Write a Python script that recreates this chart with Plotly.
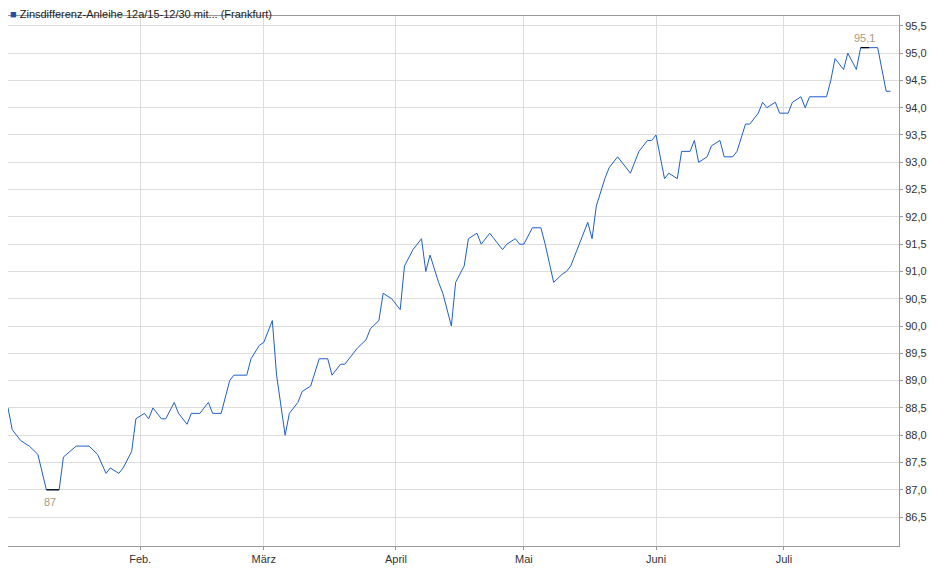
import plotly.graph_objects as go

# Kursverlauf, Jahr 2024
dates = [
    "01-01", "01-02", "01-04", "01-06", "01-08", "01-10", "01-13", "01-14", "01-17", "01-20",
    "01-22", "01-24", "01-25", "01-27", "01-28", "01-30", "01-31", "02-02", "02-03", "02-04",
    "02-06", "02-07", "02-09", "02-10", "02-12", "02-13", "02-15", "02-17", "02-18", "02-20",
    "02-22", "02-23", "02-26", "02-27", "02-29", "03-01", "03-03", "03-04", "03-06", "03-07",
    "03-09", "03-10", "03-12", "03-14", "03-16", "03-17", "03-19", "03-20", "03-22", "03-23",
    "03-25", "03-26", "03-28", "03-29", "03-31", "04-02", "04-03", "04-05", "04-07", "04-08",
    "04-09", "04-11", "04-12", "04-14", "04-15", "04-17", "04-18", "04-20", "04-21", "04-23",
    "04-24", "04-26", "04-27", "04-29", "04-30", "05-01", "05-03", "05-05", "05-06", "05-08",
    "05-10", "05-11", "05-12", "05-14", "05-16", "05-17", "05-18", "05-20", "05-21", "05-23",
    "05-24", "05-26", "05-27", "05-28", "05-30", "05-31", "06-01", "06-03", "06-04", "06-06",
    "06-07", "06-09", "06-10", "06-11", "06-13", "06-14", "06-16", "06-17", "06-19", "06-20",
    "06-22", "06-23", "06-25", "06-26", "06-27", "06-29", "06-30", "07-02", "07-03", "07-05",
    "07-06", "07-07", "07-09", "07-11", "07-12", "07-13", "07-15", "07-16", "07-18", "07-19",
    "07-21", "07-23", "07-25", "07-26",
]
prices = [
    88.5, 88.1, 87.9, 87.8, 87.65, 87.0, 87.0, 87.6, 87.8, 87.8,
    87.65, 87.3, 87.4, 87.3, 87.4, 87.7, 88.3, 88.4, 88.3, 88.5,
    88.3, 88.3, 88.6, 88.4, 88.2, 88.4, 88.4, 88.6, 88.4, 88.4,
    89.0, 89.1, 89.1, 89.4, 89.65, 89.7, 90.1, 89.1, 88.0, 88.4,
    88.6, 88.8, 88.9, 89.4, 89.4, 89.1, 89.3, 89.3, 89.5, 89.6,
    89.75, 89.95, 90.1, 90.6, 90.5, 90.3, 91.1, 91.4, 91.6, 91.0,
    91.3, 90.8, 90.6, 90.0, 90.8, 91.1, 91.6, 91.7, 91.5, 91.7,
    91.6, 91.4, 91.5, 91.6, 91.5, 91.5, 91.8, 91.8, 91.5, 90.8,
    90.95, 91.0, 91.1, 91.5, 91.9, 91.6, 92.2, 92.7, 92.9, 93.1,
    93.0, 92.8, 93.0, 93.2, 93.4, 93.4, 93.5, 92.7, 92.8, 92.7,
    93.2, 93.2, 93.4, 93.0, 93.1, 93.3, 93.4, 93.1, 93.1, 93.2,
    93.7, 93.7, 93.9, 94.1, 94.0, 94.1, 93.9, 93.9, 94.1, 94.2,
    94.0, 94.2, 94.2, 94.2, 94.5, 94.9, 94.7, 95.0, 94.7, 95.1,
    95.1, 95.1, 94.3, 94.3,
]
x_dates = ["2024-" + d for d in dates]

month_ticks = ["2024-02-01", "2024-03-01", "2024-04-01", "2024-05-01", "2024-06-01", "2024-07-01"]
month_labels = ["Feb.", "März", "April", "Mai", "Juni", "Juli"]
y_ticks = [86.5 + 0.5 * i for i in range(19)]

series_name = "Zinsdifferenz-Anleihe 12a/15-12/30 mit... (Frankfurt)"

i_min = prices.index(min(prices))
i_max = prices.index(max(prices))

fig = go.Figure()
fig.add_trace(go.Scatter(
    x=x_dates, y=prices, mode="lines", name=series_name,
    line=dict(color="#1f5fc8", width=1),
    showlegend=False,
))

# Markierung Tief / Hoch
for i, txt, shift in [(i_min, "87", -12), (i_max, "95,1", 10)]:
    fig.add_trace(go.Scatter(
        x=[x_dates[i], x_dates[i + 1]], y=[prices[i], prices[i]],
        mode="lines", line=dict(color="black", width=1.2), showlegend=False, hoverinfo="skip",
    ))
    fig.add_annotation(x=x_dates[i], y=prices[i], text=txt, showarrow=False, yshift=shift,
                       xshift=4, font=dict(size=11, color="#a89a80"))

# Legende oben links
fig.add_annotation(xref="paper", yref="paper", x=0.0, y=1.0, yshift=10, xanchor="left",
                   text="<span style='color:#1f4fa8'>■</span> " + series_name,
                   showarrow=False, font=dict(size=11, color="#222"))

fig.update_layout(
    width=940, height=579,
    margin=dict(l=0, r=49, t=8, b=41),
    paper_bgcolor="white", plot_bgcolor="white",
    separators=",.",
    font=dict(family="Liberation Sans, Arial, sans-serif", size=11, color="#333"),
    xaxis=dict(
        range=["2024-01-01", "2024-07-28"], tickvals=month_ticks, ticktext=month_labels,
        showgrid=True, gridcolor="#dddddd", zeroline=False,
        showline=True, linecolor="#999", mirror=True, ticks="outside", ticklen=3, tickcolor="#999",
    ),
    yaxis=dict(
        side="right", range=[85.97, 95.68], tickvals=y_ticks, tickformat=".1f",
        showgrid=True, gridcolor="#dddddd", zeroline=False,
        showline=True, linecolor="#999", mirror=True, ticks="outside", ticklen=3, tickcolor="#999",
    ),
)

fig.write_html("out.html")
